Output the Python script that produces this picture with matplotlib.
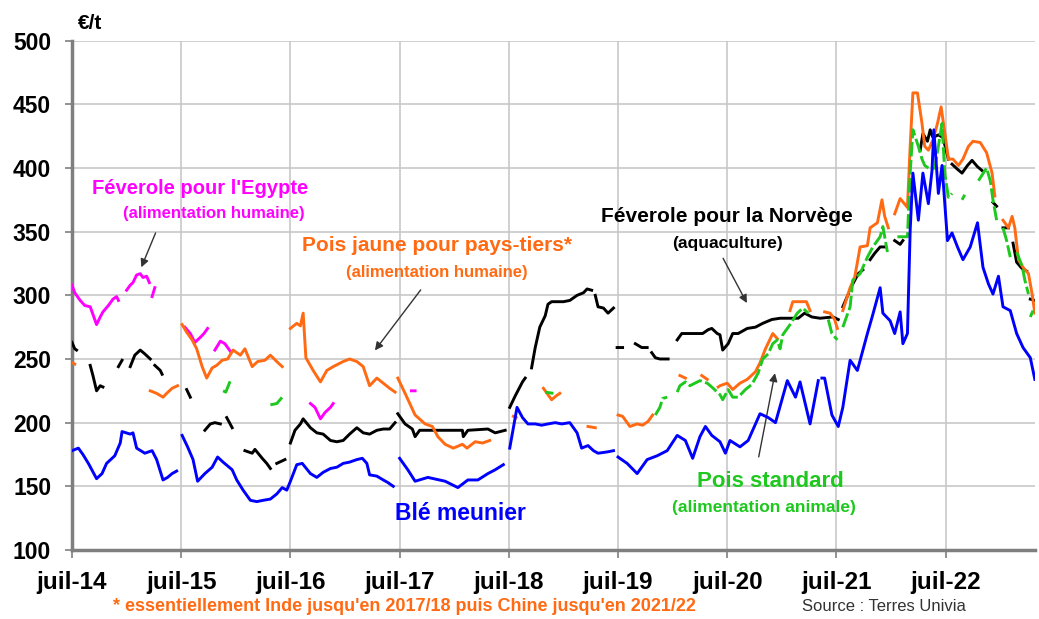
import numpy as np
import matplotlib
matplotlib.use("Agg")
import matplotlib.pyplot as plt

nan = np.nan

# temps en mois depuis juillet 2014, prix en EUR/t (nan = pas de cotation)
ble_mois = [0.0, 0.7, 1.2, 1.8, 2.7, 3.3, 3.8, 4.7, 5.3, 5.5, 6.4, 6.7, 7.1, 8.0, 8.8, 9.3, 10.0, 10.5, 11.0, 11.5, nan,
            12.1, 12.7, 13.3, 13.8, 14.6, 15.4, 16.0, 16.6, 17.6, 18.1, 18.8, 19.6, 20.3, 21.0, 21.8, 22.5, 23.1, 23.6,
            24.0, 24.7, 25.3, 26.2, 26.9, 27.6, 28.4, 29.1, 29.8, 30.5, 31.3, 31.9, 32.4, 32.7, 33.5, 34.2, 34.7, 35.3, nan,
            36.0, 36.9, 37.7, 39.1, 41.0, 42.4, 43.5, 44.6, 45.7, 46.5, 47.4, nan,
            48.1, 48.9, 49.5, 50.1, 50.9, 51.6, 52.3, 53.1, 53.8, 54.7, 55.5, 56.0, 56.7, 57.3, 57.8, 58.8, 59.5, nan,
            60.0, 61.0, 62.1, 63.2, 64.3, 65.4, 66.5, 67.4, 68.2, 69.0, 69.6, 70.3, 71.2, 71.8, 72.3, 73.4, 74.3, 75.6,
            76.5, 77.3, 78.6, 79.5, 80.0, 81.1, 82.0, nan,
            82.4, 82.7, 83.5, 84.2, 84.7, 85.5, 86.3, 87.4, 88.0, 88.8, 89.1, 89.9, 90.4, 91.0, 91.3, 91.8, 92.1, 92.4,
            93.0, 93.5, 94.1, 94.5, 94.7, 95.2, 95.6, 96.2, 96.7, 97.3, 97.9, 98.7, 99.5, 100.1, 100.7, 101.2, 101.8,
            102.3, 103.1, 103.8, 104.5, 105.3, 105.8]
ble_prix = [178, 180, 175, 168, 156, 160, 168, 174, 184, 193, 191, 192, 180, 176, 178, 171, 155, 157, 160, 162, nan,
            190, 181, 171, 154, 160, 165, 173, 169, 163, 155, 147, 139, 138, 139, 140, 144, 149, 147,
            154, 167, 168, 160, 157, 161, 164, 165, 168, 169, 171, 172, 168, 159, 158, 155, 153, 150, nan,
            172, 163, 154, 157, 154, 149, 155, 155, 160, 163, 167, nan,
            180, 212, 204, 199, 199, 198, 199, 200, 199, 200, 192, 180, 182, 178, 176, 177, 178, nan,
            173, 168, 160, 171, 174, 178, 190, 186, 172, 189, 197, 190, 185, 176, 186, 181, 186, 207,
            204, 200, 233, 220, 232, 199, 233, nan,
            235, 235, 206, 197, 212, 249, 241, 270, 285, 306, 286, 280, 270, 287, 262, 270, 351, 396,
            359, 396, 372, 398, 430, 380, 402, 343, 349, 338, 328, 338, 357, 322, 309, 301, 315,
            291, 288, 270, 259, 251, 234]

jaune_mois = [0.0, 0.3, nan,
              8.6, 9.3, 10.0, 10.4, 11.0, 11.6, nan,
              12.1, 12.6, 13.2, 13.7, 14.3, 14.8, 15.4, 15.9, 16.5, 17.1, 17.7, 18.5, 19.0, 19.8, 20.4, 21.2, 21.8, 22.5, 23.1, nan,
              24.0, 24.7, 25.1, 25.4, 25.7, 26.5, 27.3, 28.0, 28.7, 29.8, 30.5, 31.3, 32.0, 32.7, 33.5, 34.2, 34.9, 35.5, nan,
              35.8, 36.6, 37.7, 38.8, 39.6, 40.2, 41.0, 41.9, 42.9, 43.4, 44.3, 45.1, 45.9, nan,
              48.5, 48.8, nan,
              51.8, 52.3, 52.7, 53.2, 53.6, nan,
              56.7, 57.5, nan,
              60.0, 60.5, 61.3, 62.1, 62.7, 63.3, 63.8, nan,
              66.8, 67.4, nan,
              69.2, 69.8, nan,
              71.0, 71.2, 72.0, 72.6, 73.4, 74.2, 75.1, 75.6, 76.2, 77.0, 77.5, nan,
              78.9, 79.2, 80.7, 81.1, nan,
              82.7, 83.3, 83.8, 84.1, nan,
              84.7, 85.5, 86.0, 86.6, 87.4, 87.7, 88.5, 89.0, 89.3, 89.7, nan,
              90.4, 91.0, 91.8, 92.1, 92.4, 92.9, 93.4, 93.7, 94.1, 94.6, 95.1, 95.5, 95.9, 96.3, 96.8, 97.4, 97.9,
              98.5, 99.0, 99.8, 100.5, 101.1, 101.4, nan,
              102.3, 102.9, 103.3, 103.6, 104.0, 104.5, 105.1, 105.5, 105.8]
jaune_prix = [247, 246, nan,
              225, 223, 220, 223, 227, 229, nan,
              277, 271, 265, 258, 244, 235, 243, 245, 249, 250, 257, 253, 258, 244, 248, 249, 253, 248, 244, nan,
              274, 278, 276, 286, 251, 241, 232, 241, 244, 248, 250, 248, 244, 229, 235, 231, 227, 224, nan,
              235, 223, 206, 199, 197, 189, 183, 180, 183, 180, 185, 184, 186, nan,
              205, 204, nan,
              227, 222, 218, 221, 223, nan,
              197, 196, nan,
              206, 205, 197, 199, 198, 201, 206, nan,
              237, 235, nan,
              237, 234, nan,
              228, 229, 231, 226, 231, 234, 240, 247, 258, 270, 266, nan,
              288, 295, 295, 288, nan,
              287, 286, 281, 274, nan,
              288, 306, 314, 338, 339, 353, 357, 375, 362, 353, nan,
              364, 376, 369, 417, 459, 459, 435, 417, 414, 422, 435, 448, 428, 407, 407, 402, 407,
              417, 421, 420, 412, 396, 378, nan,
              359, 353, 362, 353, 328, 322, 317, 301, 286]

egypte_mois = [0.0, 0.3, 0.9, 1.4, 2.0, 2.3, 2.7, 3.1, 3.4, 4.0, 4.5, 4.9, 5.1, nan,
               6.0, 6.4, 6.7, 7.1, 7.5, 7.8, 8.2, 8.5, nan,
               8.8, 9.1, nan,
               12.4, 13.0, 13.5, 14.1, 14.5, 14.9, nan,
               15.7, 16.3, 16.8, 17.4, nan,
               26.2, 26.7, 27.3, 27.8, 28.4, 28.7, nan,
               37.3, 37.7]
egypte_prix = [308, 302, 296, 292, 291, 285, 277, 283, 287, 292, 297, 299, 296, nan,
               304, 308, 310, 316, 317, 314, 315, 310, nan,
               299, 306, nan,
               275, 270, 263, 267, 270, 274, nan,
               257, 264, 262, 256, nan,
               215, 212, 203, 208, 212, 215, nan,
               225, 225]

standard_mois = [16.6, 16.9, 17.4, nan,
                 21.8, 22.5, 23.1, nan,
                 52.0, 52.9, nan,
                 64.1, 64.6, 64.9, 65.4, nan,
                 66.5, 66.8, 67.4, 67.9, 69.0, 69.8, 70.3, 71.2, 71.5, 72.1, 72.6, 73.2, 74.0, 74.7, 75.4, 75.9,
                 76.5, 77.0, 77.5, 77.8, 78.1, 78.9, 79.7, 80.3, 80.9, nan,
                 83.1, 83.5, 84.1, nan,
                 84.7, 85.5, 85.8, 86.6, 87.4, 88.0, 88.8, 89.1, 89.6, nan,
                 90.7, 91.8, 92.1, 92.4, 93.0, 93.4, 93.7, 94.3, 94.8, 95.2, 95.6, 95.9, 96.3, 96.7, nan,
                 97.8, 98.1, nan,
                 99.6, 100.5, 100.9, 101.2, 101.6, nan,
                 102.3, 102.7, 103.1, nan,
                 103.8, 104.4, 104.7, 105.1, nan,
                 105.3, 105.6]
standard_prix = [225, 224, 233, nan,
                 214, 215, 220, nan,
                 224, 223, nan,
                 206, 212, 219, 220, nan,
                 224, 229, 232, 229, 233, 231, 228, 222, 218, 226, 220, 220, 226, 230, 239, 250,
                 254, 262, 265, 258, 269, 277, 286, 290, 286, nan,
                 281, 270, 265, nan,
                 275, 291, 312, 317, 330, 338, 346, 354, 334, nan,
                 346, 346, 396, 430, 417, 407, 402, 399, 400, 417, 435, 396, 377, 380, nan,
                 375, 379, nan,
                 390, 400, 390, 375, 359, nan,
                 353, 343, 330, nan,
                 334, 323, 312, 301, nan,
                 283, 288]

norvege_mois = [0.0, 0.3, 0.5, nan,
                2.0, 2.3, 2.7, 3.1, 3.4, nan,
                5.1, 5.5, nan,
                6.4, 6.9, 7.5, 8.0, 8.6, nan,
                9.1, 9.7, 9.9, nan,
                12.6, 13.0, nan,
                14.6, 15.2, 15.7, 16.3, nan,
                17.0, 17.6, nan,
                19.0, 19.8, 20.1, 20.9, 21.4, 21.8, nan,
                22.5, 23.4, nan,
                24.0, 24.5, 25.1, 25.4, 26.2, 26.9, 27.6, 28.4, 29.1, 29.8, 30.5, 31.3, 32.0, 32.7, 33.5, 34.2, 34.9, 35.5, nan,
                35.8, 36.3, 36.6, 37.4, 37.7, 38.2, 42.9, 43.0, 43.5, 45.7, 46.5, 47.6, nan,
                48.1, 48.7, 49.5, 49.8, nan,
                50.5, 50.9, 51.4, 52.0, 52.3, 52.7, 54.0, 54.7, 55.5, 56.2, 56.6, 57.1, nan,
                57.5, 57.8, 58.4, 58.9, 59.5, nan,
                59.9, 60.5, nan,
                61.9, 62.6, 63.2, nan,
                63.7, 64.1, 64.6, 65.5, nan,
                66.5, 67.0, 68.2, 69.3, 69.9, 70.3, 70.9, 71.2, 71.5, 72.1, 72.6, 73.2, 74.2, 75.1, 75.9, 76.9,
                77.8, 78.9, 79.8, 80.5, 81.3, 82.2, 83.6, 84.2, nan,
                84.7, 85.3, nan,
                85.8, 86.4, 86.9, nan,
                87.7, 88.2, 88.8, 89.3, nan,
                90.4, 91.0, 91.3, nan,
                93.2, 93.5, 94.0, 94.3, 94.6, 95.2, 95.7, 96.3, nan,
                96.7, 97.3, 97.8, 98.4, 98.9, 99.5, 100.0, nan,
                101.2, 101.6, nan,
                102.3, 102.9, nan,
                103.4, 103.8, 104.4, 104.9, nan,
                105.3, 105.8]
norvege_prix = [263, 258, 257, nan,
                245, 237, 225, 229, 228, nan,
                244, 249, nan,
                244, 253, 257, 254, 250, nan,
                245, 241, 238, nan,
                226, 220, nan,
                194, 199, 200, 199, nan,
                204, 196, nan,
                178, 176, 179, 172, 168, 164, nan,
                168, 171, nan,
                184, 194, 199, 203, 196, 192, 191, 186, 185, 186, 191, 196, 192, 191, 194, 195, 195, 200, nan,
                207, 202, 199, 195, 189, 194, 194, 189, 194, 195, 192, 194, nan,
                212, 221, 232, 235, nan,
                243, 259, 275, 284, 293, 295, 295, 296, 300, 302, 305, 304, nan,
                300, 291, 290, 286, 290, nan,
                259, 259, nan,
                262, 259, 259, nan,
                255, 251, 250, 250, nan,
                265, 270, 270, 270, 273, 274, 270, 269, 257, 262, 270, 270, 274, 275, 278, 281,
                282, 282, 282, 286, 283, 282, 283, 281, nan,
                291, 301, nan,
                309, 317, 320, nan,
                328, 333, 338, 338, nan,
                343, 340, 343, nan,
                414, 427, 421, 430, 424, 426, 424, 407, nan,
                403, 399, 396, 402, 406, 401, 398, nan,
                373, 370, nan,
                353, 353, nan,
                341, 326, 321, 319, nan,
                297, 296]

annees = ['juil-14', 'juil-15', 'juil-16', 'juil-17', 'juil-18', 'juil-19', 'juil-20', 'juil-21', 'juil-22']

BLEU = '#0000ff'
ORANGE = '#ff6a13'
VERT = '#1ec81e'
ROSE = '#ff00ff'
NOIR = '#000000'

plt.rcParams['font.family'] = ['Liberation Sans', 'DejaVu Sans']

fig = plt.figure(figsize=(10.39, 6.19), dpi=100)
ax = fig.add_axes([0.0693, 0.1115, 0.9267, 0.8228])

lw = 2.1
ax.plot(egypte_mois, egypte_prix, color=ROSE, lw=lw, zorder=3)
ax.plot(norvege_mois, norvege_prix, color=NOIR, lw=lw, zorder=3)
ax.plot(jaune_mois, jaune_prix, color=ORANGE, lw=lw, zorder=4)
ax.plot(standard_mois, standard_prix, color=VERT, lw=lw, zorder=5,
        linestyle=(0, (5, 1.2)))
ax.plot(ble_mois, ble_prix, color=BLEU, lw=lw, zorder=6)

ax.set_xlim(0, 105.8)
ax.set_ylim(100, 500)
ax.set_xticks(np.arange(len(annees)) * 12)
ax.set_xticklabels(annees)
ax.set_yticks(np.arange(100, 501, 50))

ax.grid(True, color='#c8c8c8', lw=1.2)
ax.set_axisbelow(True)
for s in ['top', 'right']:
    ax.spines[s].set_visible(False)
for s in ['left', 'bottom']:
    ax.spines[s].set_color('#7f7f7f')
    ax.spines[s].set_linewidth(2.5)
ax.tick_params(axis='x', direction='out', length=6, width=1.2, color='#7f7f7f', pad=9)
ax.tick_params(axis='y', direction='out', length=5, width=1.2, color='#7f7f7f', pad=10)
for lab in ax.get_yticklabels():
    lab.set_fontsize(16.5)
    lab.set_fontweight('bold')
for lab in ax.get_xticklabels():
    lab.set_fontsize(17.5)
    lab.set_fontweight('bold')

fig.text(0.075, 0.962, '€/t', fontsize=15, fontweight='bold', ha='left', va='center')

# annotations
fleche = dict(arrowstyle='-|>', color='#333333', lw=1.0, mutation_scale=12)

ax.text(14.1, 384, "Féverole pour l'Egypte", color=ROSE, fontsize=14.5, fontweight='bold', ha='center', va='center')
ax.text(15.6, 364, "(alimentation humaine)", color=ROSE, fontsize=12, fontweight='bold', ha='center', va='center')
ax.annotate('', xy=(7.5, 320), xytext=(9.3, 351), arrowprops=fleche)

ax.text(40.1, 339, "Pois jaune pour pays-tiers*", color=ORANGE, fontsize=15, fontweight='bold', ha='center', va='center')
ax.text(40.1, 318, "(alimentation humaine)", color=ORANGE, fontsize=12, fontweight='bold', ha='center', va='center')
ax.annotate('', xy=(33.1, 255), xytext=(38.5, 306), arrowprops=fleche)

ax.text(72.0, 362, "Féverole pour la Norvège", color=NOIR, fontsize=15, fontweight='bold', ha='center', va='center')
ax.text(72.0, 341, "(aquaculture)", color=NOIR, fontsize=12.5, fontweight='bold', ha='center', va='center')
ax.annotate('', xy=(74.3, 292), xytext=(71.4, 331), arrowprops=fleche)

ax.text(76.7, 154, "Pois standard", color=VERT, fontsize=16, fontweight='bold', ha='center', va='center')
ax.text(76.0, 133, "(alimentation animale)", color=VERT, fontsize=12.5, fontweight='bold', ha='center', va='center')
ax.annotate('', xy=(77.3, 241), xytext=(75.4, 171), arrowprops=fleche)

ax.text(42.7, 129, "Blé meunier", color=BLEU, fontsize=16.5, fontweight='bold', ha='center', va='center')

fig.text(0.389, 0.021, "* essentiellement Inde jusqu'en 2017/18 puis Chine jusqu'en 2021/22",
         color=ORANGE, fontsize=13, fontweight='bold', ha='center', va='center')
fig.text(0.851, 0.021, "Source : Terres Univia", color='#333333', fontsize=12,
         ha='center', va='center')

fig.savefig('out.png', dpi=100)
